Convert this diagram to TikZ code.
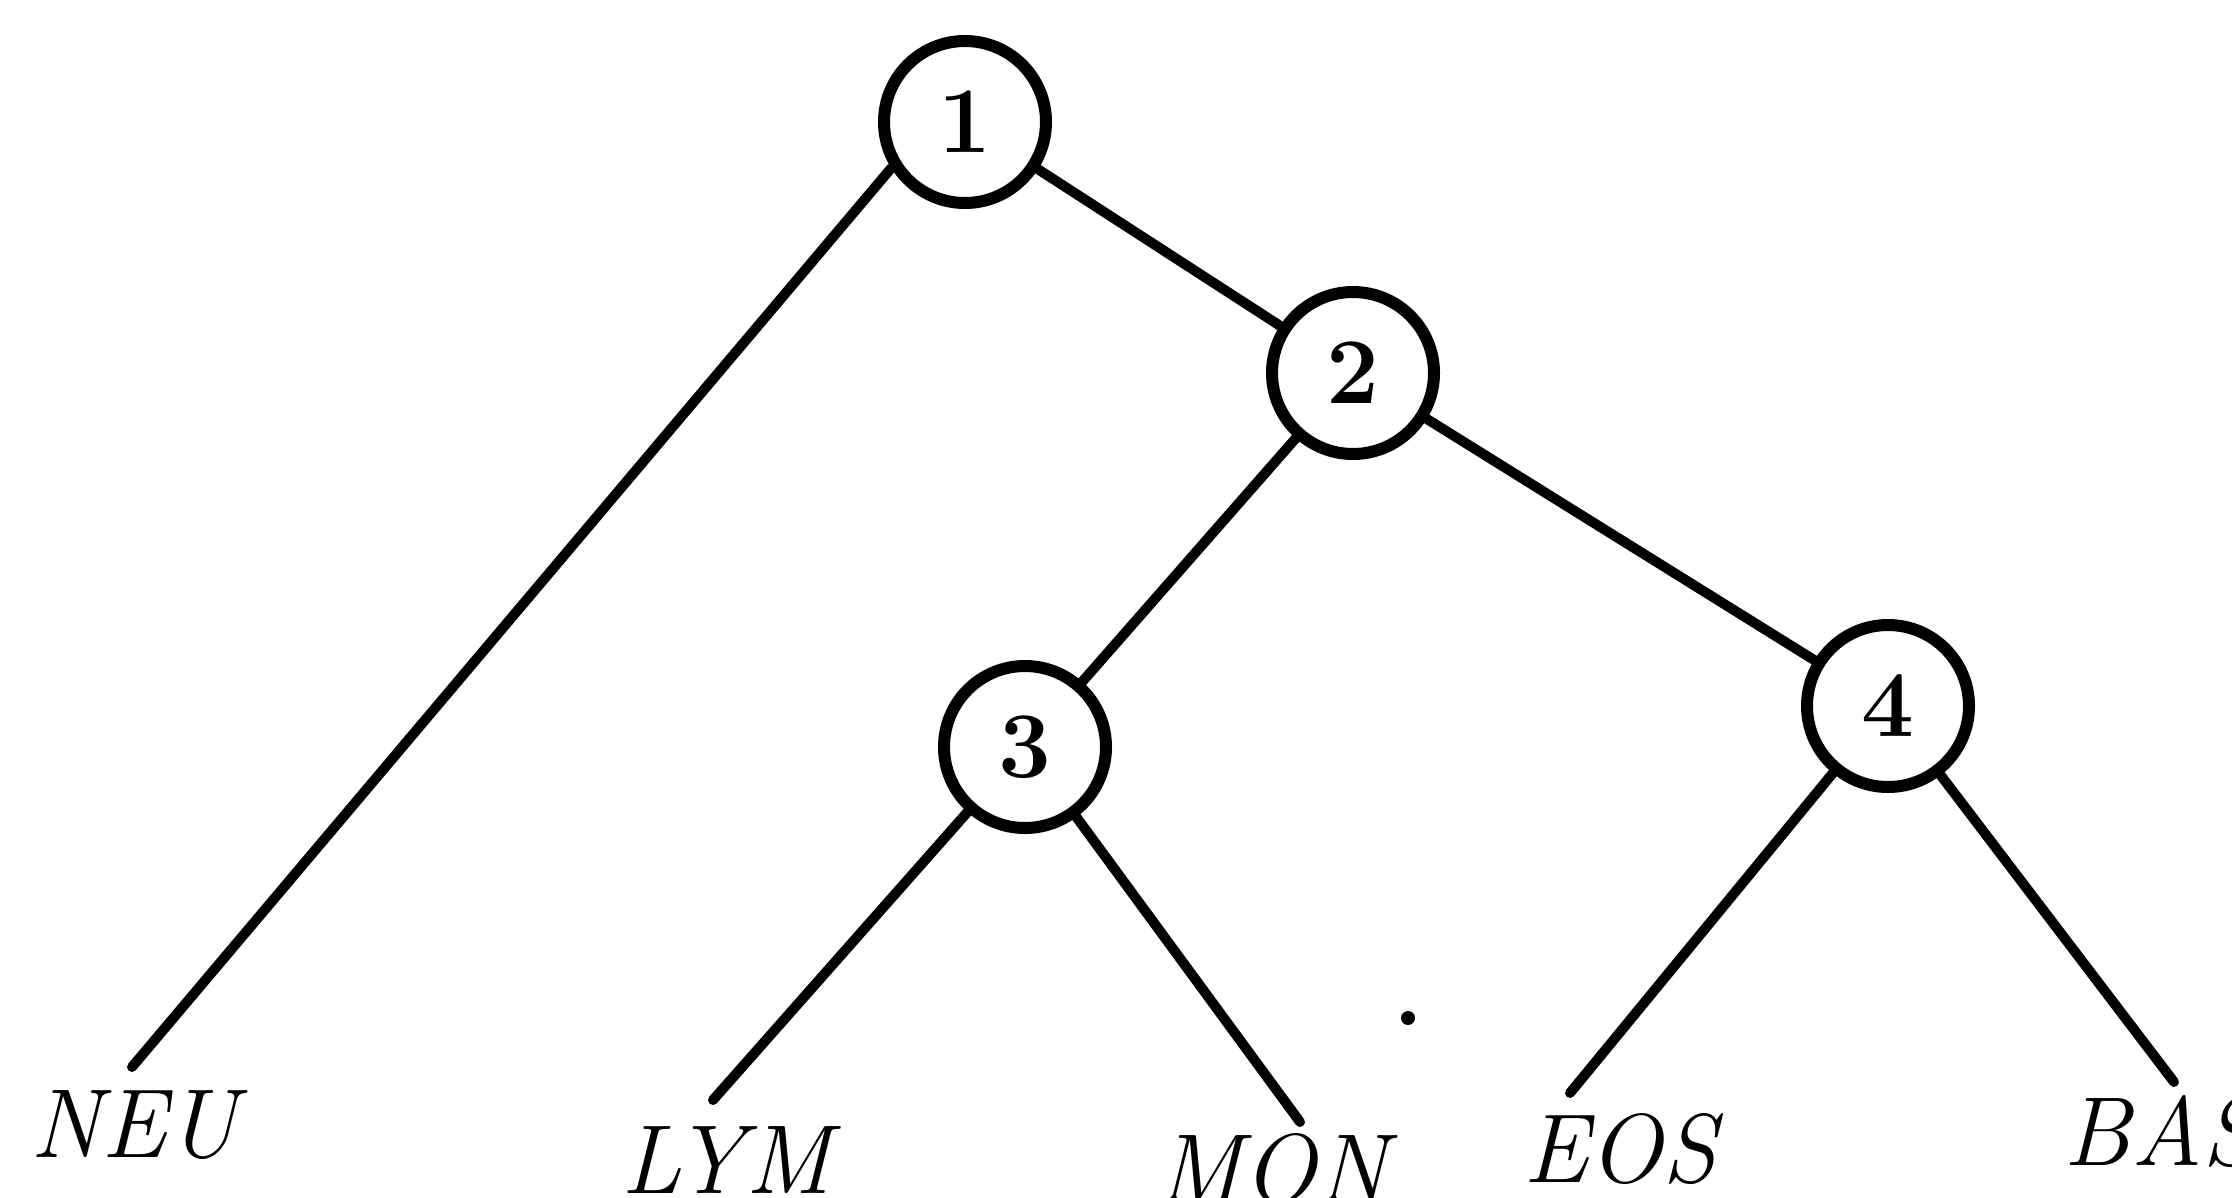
\documentclass[tikz,border=0pt]{standalone}
\begin{document}
\begin{tikzpicture}[x=1pt,y=-1pt,
  circ/.style={circle,draw,line width=12pt,minimum size=162pt,inner sep=0pt,
    font=\fontsize{94}{94}\selectfont\bfseries},
  leaf/.style={anchor=base,inner sep=0pt,font=\fontsize{98}{98}\selectfont\itshape},
  edge/.style={line width=10pt,line cap=round}]
\useasboundingbox (0,0) rectangle (2232,1197);

% internal nodes
\node[circ] (n1) at (965,122) {1};
\node[circ] (n2) at (1353,373) {2};
\node[circ] (n3) at (1025,747) {3};
\node[circ] (n4) at (1888,706) {4};

% leaf labels
\node[leaf] (neu) at (134,1157) {NEU};
\node[leaf] (lym) at (726,1193) {LYM};
\node[leaf] (mon) at (1272,1202) {MON};
\node[leaf] (eos) at (1620,1182) {EOS};
\node[leaf] (bas) at (2160,1165) {BAS};

% free ends of the leaf branches
\coordinate (eneu) at (132,1067);
\coordinate (elym) at (713,1100);
\coordinate (emon) at (1300,1122);
\coordinate (eeos) at (1570,1093);
\coordinate (ebas) at (2174,1082);

% branches
\draw[edge] (n1) -- (n2);
\draw[edge] (n2) -- (n3);
\draw[edge] (n2) -- (n4);
\draw[edge] (n1.212) -- (eneu);
\draw[edge] (n3) -- (elym);
\draw[edge] (n3) -- (emon);
\draw[edge] (n4) -- (eeos);
\draw[edge] (n4) -- (ebas);

% speck
\fill (1408,1018) circle (7pt);
\end{tikzpicture}
\end{document}
